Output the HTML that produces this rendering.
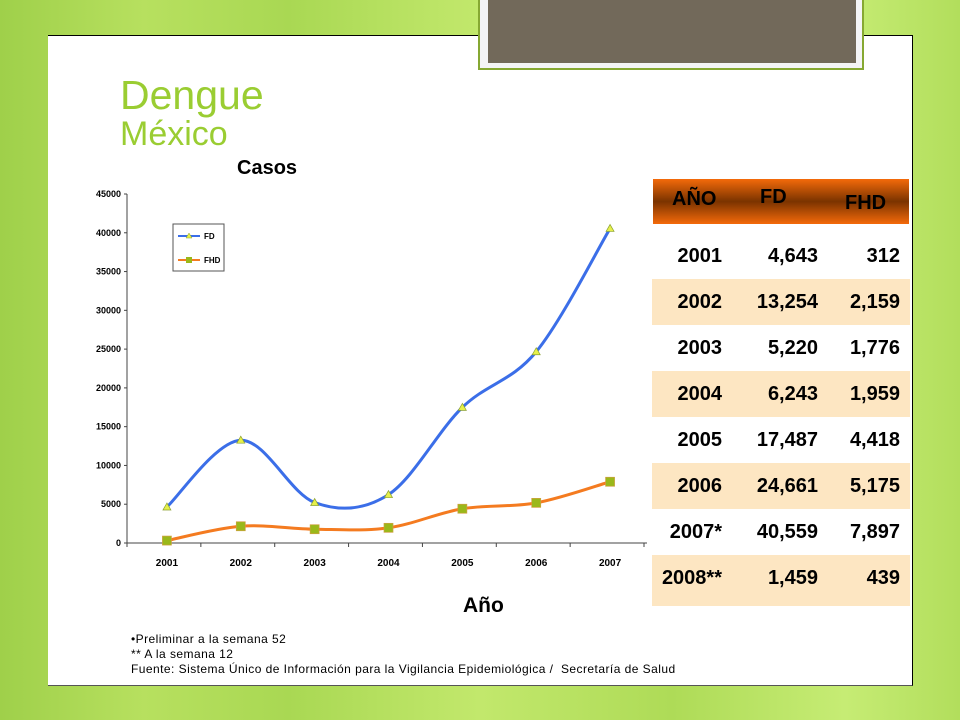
<!DOCTYPE html>
<html><head><meta charset="utf-8"><style>
body{margin:0;width:960px;height:720px;overflow:hidden;position:relative;font-family:"Liberation Sans",sans-serif;
background:linear-gradient(90deg,#9fd04a 0%,#b7e05f 15%,#a9d853 30%,#c2e86c 50%,#aedb57 70%,#c6ec74 88%,#b2de5c 100%);}
.abs{position:absolute}
.cell{position:absolute;font-weight:bold;font-size:20px;color:#000;text-align:right}
</style></head><body>
<div class="abs" style="left:48px;top:35px;width:864px;height:649px;background:#fff;border-right:1px solid #000;border-top:1px solid #000;border-bottom:1px solid #555"></div>
<div class="abs" style="left:478px;top:-2px;width:382px;height:68px;background:#f4f4f6;border:2px solid #86a832"></div>
<div class="abs" style="left:488px;top:0;width:368px;height:63px;background:#72695a"></div>
<div class="abs" style="left:120px;top:72px;font-size:41px;color:#9acd32">Dengue</div>
<div class="abs" style="left:120px;top:115px;font-size:34px;color:#9acd32">México</div>
<div class="abs" style="left:237px;top:157px;font-size:20px;font-weight:bold">Casos</div>
<div class="abs" style="left:463px;top:594px;font-size:21px;font-weight:bold">Año</div>
<div class="abs" style="left:131px;top:632px;font-size:12px;letter-spacing:0.45px;line-height:15px;color:#000">•Preliminar a la semana 52<br>** A la semana 12<br>Fuente: Sistema Único de Información para la Vigilancia Epidemiológica /&nbsp; Secretaría de Salud</div>
<svg class="abs" style="left:0;top:0" width="960" height="720" id="chart"></svg>
<div class="abs" style="left:653px;top:179px;width:256px;height:45px;background:linear-gradient(180deg,#f46a0a 0%,#7a3300 50%,#f46a0a 100%)"></div>
<div class="cell" style="left:672px;top:188px">AÑO</div>
<div class="cell" style="left:760px;top:186px">FD</div>
<div class="cell" style="left:845px;top:192px">FHD</div>
<div id="tbl"></div>
<script>
const years=['2001','2002','2003','2004','2005','2006','2007'];
const fd=[4643,13254,5220,6243,17487,24661,40559];
const fhd=[312,2159,1776,1959,4418,5175,7897];
const yTicks=[0,5000,10000,15000,20000,25000,30000,35000,40000,45000];
const tYears=['2001','2002','2003','2004','2005','2006','2007*','2008**'];
const tFD=['4,643','13,254','5,220','6,243','17,487','24,661','40,559','1,459'];
const tFHD=['312','2,159','1,776','1,959','4,418','5,175','7,897','439'];
const NS='http://www.w3.org/2000/svg';
const svg=document.getElementById('chart');
const x0=130,x1=647,yb=543,yt=194,ymax=45000;
const step=(x1-x0)/7;
const X=i=>x0+step*(i+0.5);
const Y=v=>yb-(v/ymax)*(yb-yt);
function mk(t,a){const e=document.createElementNS(NS,t);for(const k in a)e.setAttribute(k,a[k]);svg.appendChild(e);return e;}
let e=mk('line',{x1:x0-3,y1:yt,x2:x0-3,y2:yb,stroke:'#444','stroke-width':1});

e=mk('line',{x1:x0-3,y1:yb,x2:x1,y2:yb,stroke:'#444','stroke-width':1});

yTicks.forEach(v=>{
 mk('line',{x1:x0-6,y1:Y(v),x2:x0-3,y2:Y(v),stroke:'#444'});
 const t=mk('text',{x:x0-9,y:Y(v)+3,'text-anchor':'end','font-size':9,'font-weight':'bold','font-family':'Liberation Sans'});
 t.textContent=v;
 
});
for(let i=0;i<=7;i++)mk('line',{x1:x0-3+step*i,y1:yb,x2:x0-3+step*i,y2:yb+4,stroke:'#444'});
years.forEach((y,i)=>{const t=mk('text',{x:X(i),y:yb+23,'text-anchor':'middle','font-size':10,'font-weight':'bold','font-family':'Liberation Sans'});t.textContent=y;
 });
function smooth(vals){const p=vals.map((v,i)=>[X(i),Y(v)]);let d='M'+p[0];
 for(let i=0;i<p.length-1;i++){const a=p[i-1]||p[i],b=p[i],c=p[i+1],n=p[i+2]||c;
  d+=` C${b[0]+(c[0]-a[0])/6},${b[1]+(c[1]-a[1])/6} ${c[0]-(n[0]-b[0])/6},${c[1]-(n[1]-b[1])/6} ${c[0]},${c[1]}`;}return d;}
e=mk('path',{d:smooth(fd),fill:'none',stroke:'#3b6ee8','stroke-width':3});

e=mk('path',{d:smooth(fhd),fill:'none',stroke:'#f47b20','stroke-width':3});

fd.forEach((v,i)=>{const x=X(i),y=Y(v);const m=mk('polygon',{points:`${x},${y-4} ${x-4},${y+3} ${x+4},${y+3}`,fill:'#e6f04a',stroke:'#8aa030','stroke-width':0.7});
 });
fhd.forEach((v,i)=>{const m=mk('rect',{x:X(i)-4.5,y:Y(v)-4.5,width:9,height:9,fill:'#9ab81a',stroke:'#d0a040','stroke-width':0.7});
 });
e=mk('rect',{x:173,y:224,width:51,height:47,fill:'#fff',stroke:'#555'});

mk('line',{x1:178,y1:236,x2:200,y2:236,stroke:'#3b6ee8','stroke-width':2});
mk('polygon',{points:'189,233 186,238 192,238',fill:'#e6f04a',stroke:'#8aa030','stroke-width':0.5});
let lt=mk('text',{x:204,y:239,'font-size':8,'font-weight':'bold','font-family':'Liberation Sans'});lt.textContent='FD';

mk('line',{x1:178,y1:260,x2:200,y2:260,stroke:'#f47b20','stroke-width':2});
mk('rect',{x:186,y:257,width:6,height:6,fill:'#9ab81a'});
lt=mk('text',{x:204,y:263,'font-size':8,'font-weight':'bold','font-family':'Liberation Sans'});lt.textContent='FHD';

const tbl=document.getElementById('tbl');
tYears.forEach((y,i)=>{const top=233+i*46;
 if(i%2===1){const b=document.createElement('div');b.className='abs';b.style.cssText=`left:652px;top:${top}px;width:258px;height:${i===7?51:46}px;background:#fde6c2`;
  tbl.appendChild(b);}
});
tYears.forEach((y,i)=>{const top=245+i*46;
 [[y,622,100,'year-cell'],[tFD[i],718,100,'fd-cell'],[tFHD[i],800,100,'fhd-cell']].forEach(([txt,l,w,n])=>{
  const c=document.createElement('div');c.className='cell';c.style.cssText=`left:${l}px;top:${top}px;width:${w}px`;c.textContent=txt;
  tbl.appendChild(c);});
});
</script>
</body></html>
